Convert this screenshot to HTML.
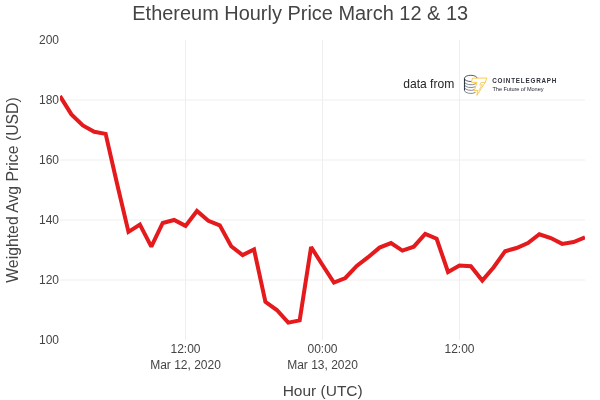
<!DOCTYPE html>
<html><head><meta charset="utf-8"><style>
html,body{margin:0;padding:0;background:#fff;}
svg{display:block;will-change:transform;font-family:"Liberation Sans",sans-serif;}
</style></head><body>
<svg width="600" height="400" viewBox="0 0 600 400">
<rect width="600" height="400" fill="#fff"/>
<g stroke="#eeeeee" stroke-width="1" fill="none">
<path d="M185.5,40V340M322.5,40V340M459.5,40V340"/>
<path d="M60,100H585M60,160H585M60,220H585M60,280H585"/>
</g>
<clipPath id="c"><rect x="60" y="40" width="525" height="300"/></clipPath>
<g clip-path="url(#c)"><path d="M60.00,96.10L71.41,114.40L82.83,125.50L94.24,131.80L105.65,133.90L117.07,183.70L128.48,231.85L139.89,224.50L151.30,246.55L162.72,223.00L174.13,220.00L185.54,225.85L196.96,211.00L208.37,220.75L219.78,225.40L231.20,246.25L242.61,255.10L254.02,249.40L265.43,301.90L276.85,310.00L288.26,322.60L299.67,320.35L311.09,247.00L322.50,265.00L333.91,282.55L345.33,277.99L356.74,265.90L368.15,257.20L379.57,247.60L390.98,243.10L402.39,250.60L413.80,246.70L425.22,233.80L436.63,238.75L448.04,271.99L459.46,265.60L470.87,266.20L482.28,280.60L493.70,267.25L505.11,251.20L516.52,247.99L527.93,243.10L539.35,234.25L550.76,238.00L562.17,243.85L573.59,241.99L585.00,237.40" fill="none" stroke="#e41a1c" stroke-width="4" stroke-linejoin="miter" stroke-miterlimit="2"/></g>
<g fill="#444" font-size="12px">
<g text-anchor="end">
<text x="59" y="44.2">200</text><text x="59" y="104.2">180</text><text x="59" y="164.2">160</text><text x="59" y="224.2">140</text><text x="59" y="284.2">120</text><text x="59" y="344.2">100</text>
</g>
<g text-anchor="middle">
<text x="185.5" y="353.4">12:00</text><text x="185.5" y="369">Mar 12, 2020</text>
<text x="322.5" y="353.4">00:00</text><text x="322.5" y="369">Mar 13, 2020</text>
<text x="459.5" y="353.4">12:00</text>
</g>
<text x="403.2" y="87.5" fill="#262626" font-size="12.1px">data from</text>
</g>
<text x="300.2" y="19.9" text-anchor="middle" font-size="19.96px" fill="#444">Ethereum Hourly Price March 12 &amp; 13</text>
<text x="322.7" y="396.3" text-anchor="middle" font-size="15.5px" fill="#444">Hour (UTC)</text>
<text transform="translate(18.4,190) rotate(-90)" text-anchor="middle" font-size="15.8px" fill="#444">Weighted Avg Price (USD)</text>
<!-- logo -->
<g id="logo">
<g fill="none" stroke="#2a303b" stroke-width="0.8">
<ellipse cx="470.8" cy="78.4" rx="6.4" ry="3.1"/>
<path d="M464.5,78.4V90.4" stroke-width="1.1"/>
<g stroke="#5d636e" stroke-width="0.75">
<path d="M464.4,81.6A6.4,3.2 0 0 0 475.8,83.6"/>
<path d="M464.4,84.5A6.4,3.2 0 0 0 475.2,86.7"/>
<path d="M464.4,87.3A6.4,3.2 0 0 0 474.6,89.7"/>
<path d="M464.4,90.2A6.4,3.2 0 0 0 475.5,92.4"/>
</g>
</g>
<path d="M472.5,78.2L486.8,78.0L485.3,82.4L483.7,84.5L476.9,95.4L477.5,90.2L474.3,90.8L477,82.4L471.3,82.3Z" fill="#fff" stroke="#f8c233" stroke-width="0.85" stroke-linejoin="miter"/>
<path d="M485.2,82.45L481,82.5L479.7,85.1L482.3,84.7L478.6,90.6" fill="none" stroke="#f8c233" stroke-width="0.7"/>
<text x="492.2" y="82.8" font-size="6.3px" font-weight="bold" fill="#2b2f38" textLength="64.2" lengthAdjust="spacing">COINTELEGRAPH</text>
<text x="492.5" y="91.2" font-size="5.6px" fill="#1d222c" textLength="51" lengthAdjust="spacing">The Future of Money</text>
</g>
</svg>
</body></html>
